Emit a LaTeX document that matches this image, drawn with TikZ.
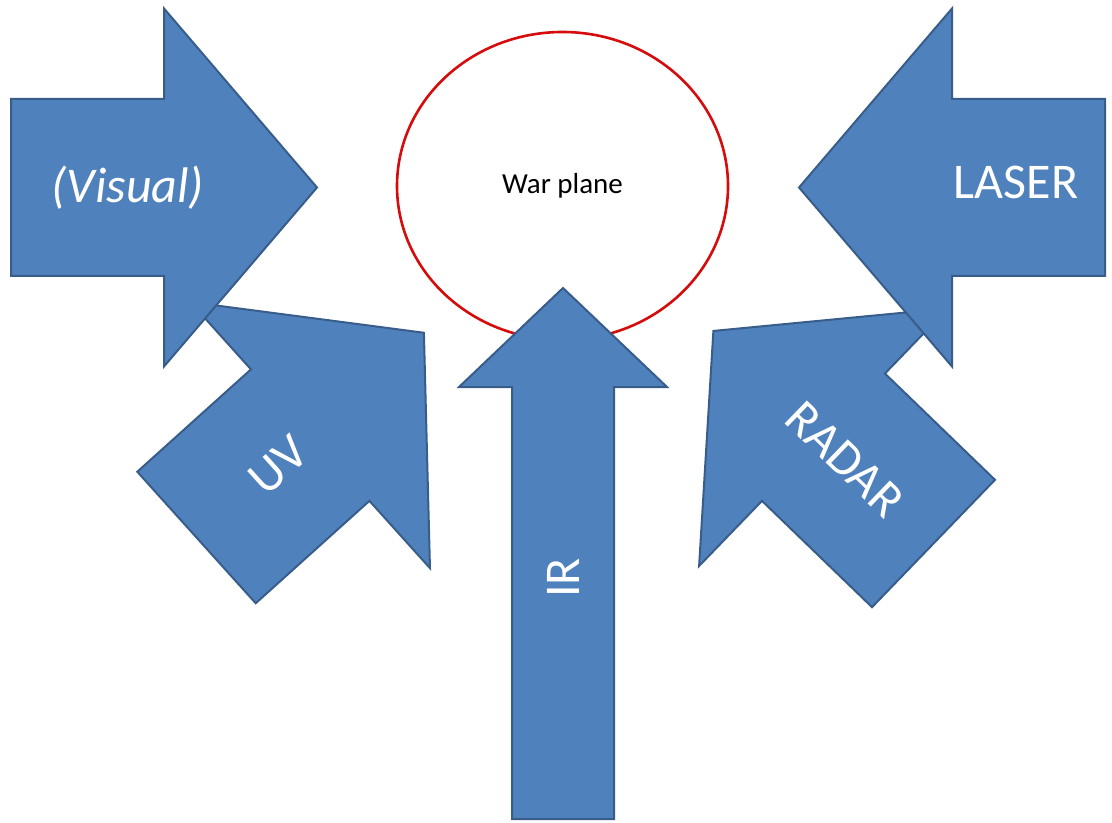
\documentclass[tikz,border=0pt]{standalone}
\usepackage{fontspec}
\setmainfont{Carlito}
\usetikzlibrary{shapes.geometric}

\definecolor{beamblue}{RGB}{79,129,189}
\definecolor{beamedge}{RGB}{56,93,138}
\definecolor{planered}{RGB}{214,12,12}

\begin{document}
\begin{tikzpicture}[x=0.5pt, y=-0.5pt,
    beam/.style={fill=beamblue, draw=beamedge, line width=1pt, line join=miter},
    tag/.style={text=white, font=\fontsize{25}{30}\selectfont},
    wide arrow/.pic={
      \draw[beam] (0,-88.5) -- (153,-88.5) -- (153,-179) -- (306,0)
        -- (153,179) -- (153,88.5) -- (0,88.5) -- cycle;
    }]
	% Page frame
	\useasboundingbox (0,0) rectangle (1112,823);

	% Draw the target
	\node[ellipse, draw=planered, line width=1.3pt, fill=white,
	      minimum width=165.5pt, minimum height=154pt,
	      font=\fontsize{14.5}{17}\selectfont] (plane) at (562.5,186) {War plane};

	% Draw the slanted arrows first, the straight ones go on top
	\pic[rotate=42]  at (196.5,537.5) {wide arrow};
	\pic[rotate=136] at (933.5,543.5) {wide arrow};
	\pic             at (11,187.5)    {wide arrow};
	\pic[rotate=180] at (1105,187.5)  {wide arrow};

	% Draw the long arrow from below
	\begin{scope}[shift={(563,819)}, rotate=90]
		\draw[beam] (0,-51) -- (432,-51) -- (432,-104) -- (531,0)
		  -- (432,104) -- (432,51) -- (0,51) -- cycle;
	\end{scope}

	% Labels on the arrows
	\node[tag] (visual) at (128,188) {\itshape (Visual)};
	\node[tag] (laser) at (1016,182) {LASER};
	\node[tag, rotate=42] (uv) at (278,465) {UV};
	\node[tag, rotate=-44] (radar) at (845,459) {RADAR};
	\node[tag, rotate=90] (ir) at (563,578) {IR};

\end{tikzpicture}
\end{document}
